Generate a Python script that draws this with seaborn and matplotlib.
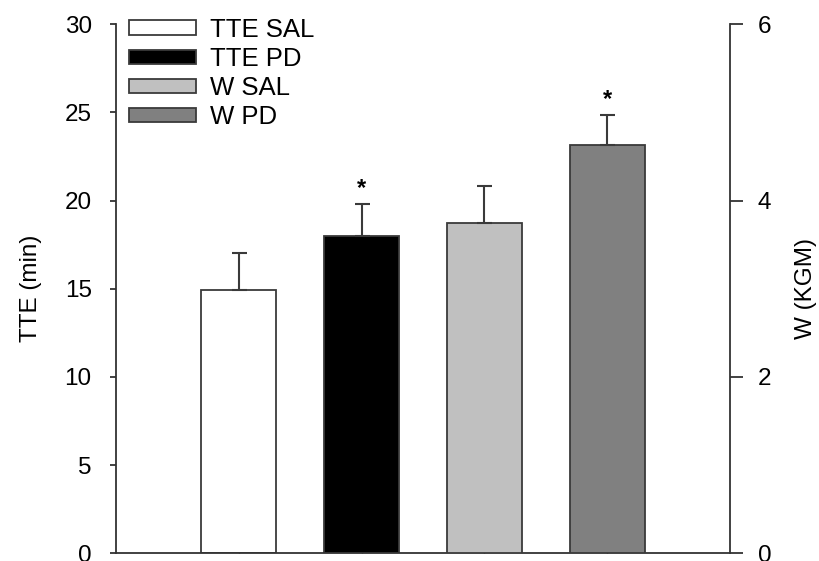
import matplotlib
matplotlib.use("Agg")
import matplotlib.pyplot as plt
import seaborn as sns
import pandas as pd
from matplotlib.patches import Patch

# ---- data ----
groups = ["TTE SAL", "TTE PD", "W SAL", "W PD"]
tte_groups = ["TTE SAL", "TTE PD"]
tte_values = [14.9, 18.0]        # TTE (min)
tte_errors = [2.1, 1.8]
w_groups = ["W SAL", "W PD"]
w_values = [3.75, 4.63]          # W (KGM)
w_errors = [0.41, 0.34]
bar_colors = ["#ffffff", "#000000", "#c0c0c0", "#808080"]
significant = ["TTE PD", "W PD"]
left_ticks = [0, 5, 10, 15, 20, 25, 30]
right_ticks = [0, 2, 4, 6]

sns.set_theme(style="white")
plt.rcParams["font.family"] = ["Liberation Sans", "DejaVu Sans"]
plt.rcParams["text.color"] = "black"
plt.rcParams["axes.labelcolor"] = "black"
plt.rcParams["xtick.color"] = "black"
plt.rcParams["ytick.color"] = "black"

edge = "#3a3a3a"
palette = dict(zip(groups, bar_colors))

fig = plt.figure(figsize=(8.2, 5.61), dpi=100)
ax = fig.add_axes([0.1415, 0.0137, 0.7487, 0.9433])
ax2 = ax.twinx()

df_tte = pd.DataFrame({"group": tte_groups, "value": tte_values})
df_w = pd.DataFrame({"group": w_groups, "value": w_values})

sns.barplot(data=df_tte, x="group", y="value", hue="group", order=groups,
            hue_order=groups, palette=palette, width=0.61, errorbar=None,
            edgecolor=edge, linewidth=1.3, legend=False, ax=ax)
sns.barplot(data=df_w, x="group", y="value", hue="group", order=groups,
            hue_order=groups, palette=palette, width=0.61, errorbar=None,
            edgecolor=edge, linewidth=1.3, legend=False, ax=ax2)

def add_err(axis, gs, vals, errs):
    for g, v, e in zip(gs, vals, errs):
        xpos = groups.index(g)
        axis.errorbar([xpos], [v], yerr=[[0], [e]], fmt="none", ecolor=edge,
                      elinewidth=1.5, capsize=5.4, capthick=1.5, zorder=1)
        if g in significant:
            axis.annotate("*", xy=(xpos, v + e), xytext=(0, 3),
                          textcoords="offset points", ha="center", va="bottom",
                          fontsize=17, fontweight="bold", color="black")

add_err(ax, tte_groups, tte_values, tte_errors)
add_err(ax2, w_groups, w_values, w_errors)

ax.set_xlim(-1.0, 4.0)
ax.set_ylim(0, 30)
ax2.set_ylim(0, 6)
ax.set_yticks(left_ticks)
ax2.set_yticks(right_ticks)
ax.set_xticks(range(len(groups)))
ax.set_xticklabels([])
ax.set_xlabel("")
ax2.set_xlabel("")

for s in ["top", "right"]:
    ax.spines[s].set_visible(False)
for s in ["top", "left", "bottom"]:
    ax2.spines[s].set_visible(False)
for a in (ax, ax2):
    for s in a.spines.values():
        s.set_color("#333333")
        s.set_linewidth(1.3)

ax.tick_params(axis="y", direction="out", length=4.5, width=1.3, color="#333333",
               labelsize=17.5, pad=13, left=True)
ax.tick_params(axis="x", direction="in", length=3, width=1.0, color="#333333",
               bottom=True)
ax2.tick_params(axis="y", direction="out", length=9.4, width=1.3, color="#333333",
                labelsize=17.5, pad=10.5, right=True)

ax.set_ylabel("TTE (min)", fontsize=17.5, labelpad=16)
ax2.set_ylabel("W (KGM)", fontsize=17.5, labelpad=17, rotation=90)

handles = [Patch(facecolor=c, edgecolor=edge, linewidth=1.3) for c in bar_colors]
ax2.legend(handles, groups, loc="upper left", bbox_to_anchor=(0.021, 1.012),
           frameon=False, fontsize=18.5, handlelength=2.6, handleheight=0.48,
           labelspacing=0.2, handletextpad=0.56, borderpad=0, borderaxespad=0)

fig.savefig("out.png", dpi=100)
